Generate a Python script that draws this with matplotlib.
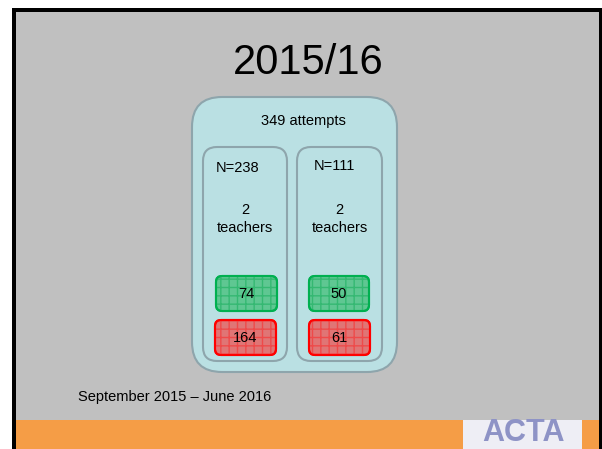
import matplotlib
matplotlib.use("Agg")
import matplotlib.pyplot as plt
from matplotlib.patches import FancyBboxPatch, Rectangle

plt.rcParams['font.family'] = ['Liberation Sans', 'DejaVu Sans']

# ---- data ----
title = "2015/16"
total_attempts = 349
group_n = [238, 111]
group_teachers = [2, 2]
passed = [74, 50]
failed = [164, 61]
period = "September 2015 \u2013 June 2016"
logo = "ACTA"

W, H = 602, 449
fig = plt.figure(figsize=(W / 100, H / 100), dpi=100)
fig.patch.set_facecolor('white')
ax = fig.add_axes([0, 0, 1, 1])
ax.set_xlim(0, W)
ax.set_ylim(H, 0)
ax.axis('off')

# slide background + frame
ax.add_patch(Rectangle((12, 8), 590, 441, facecolor='#C0C0C0', edgecolor='none', zorder=0))
ax.add_patch(Rectangle((12, 420), 590, 29, facecolor='#F59D46', edgecolor='none', zorder=1))
ax.add_patch(Rectangle((12, 8), 3.5, 441, facecolor='black', edgecolor='none', zorder=2))
ax.add_patch(Rectangle((12, 8), 590, 3.5, facecolor='black', edgecolor='none', zorder=2))
ax.add_patch(Rectangle((598.5, 8), 3.5, 441, facecolor='black', edgecolor='none', zorder=2))
# logo
ax.add_patch(Rectangle((463, 420), 119, 29, facecolor='#EEEEF5', edgecolor='none', zorder=2))
ax.text(523, 448, logo, fontsize=22, fontweight='bold', color='#8E93C6',
        ha='center', va='bottom', zorder=3)

# title
ax.text(308, 63, title, fontsize=30, ha='center', va='center', color='black', zorder=3)

def rbox(x0, y0, x1, y1, r, fc, ec, lw, z, hatch=None, hc=None):
    ax.add_patch(FancyBboxPatch((x0 + r, y0 + r), (x1 - x0) - 2 * r, (y1 - y0) - 2 * r,
                                boxstyle=f"round,pad={r}", facecolor=fc, edgecolor=ec,
                                linewidth=lw, zorder=z))
    if hatch:
        ax.add_patch(FancyBboxPatch((x0 + r, y0 + r), (x1 - x0) - 2 * r, (y1 - y0) - 2 * r,
                                    boxstyle=f"round,pad={r}", facecolor='none', edgecolor=hc,
                                    linewidth=0, hatch=hatch, zorder=z + 0.1))
        ax.add_patch(FancyBboxPatch((x0 + r, y0 + r), (x1 - x0) - 2 * r, (y1 - y0) - 2 * r,
                                    boxstyle=f"round,pad={r}", facecolor='none', edgecolor=ec,
                                    linewidth=lw, zorder=z + 0.2))

# outer box
rbox(192, 97, 397, 372, 30, '#BAE0E3', '#8EA5AC', 1.5, 5)
ax.text(303, 121, f"{total_attempts} attempts", fontsize=10.5, ha='center', va='center', zorder=8)

inner_x = [(203, 287), (297, 382)]
n_pos = [(238, 168), (334, 166)]
for i in range(2):
    x0, x1 = inner_x[i]
    rbox(x0, 147, x1, 361, 14, '#BAE0E3', '#8EA5AC', 1.5, 6)
    cx = (x0 + x1) / 2
    ax.text(n_pos[i][0], n_pos[i][1], f"N={group_n[i]}", fontsize=10.5, ha='center', va='center', zorder=8)
    ax.text(cx, 210, f"{group_teachers[i]}", fontsize=10.5, ha='center', va='center', zorder=8)
    ax.text(cx, 228, "teachers", fontsize=10.5, ha='center', va='center', zorder=8)

green_x = [(216, 277), (309, 369)]
red_x = [(215, 276), (309, 370)]
for i in range(2):
    gx0, gx1 = green_x[i]
    rbox(gx0, 276, gx1, 311, 6, '#5FC792', '#00B050', 1.5, 7, hatch='++', hc='#35B872')
    ax.text((gx0 + gx1) / 2, 294, f"{passed[i]}", fontsize=10.5, ha='center', va='center', zorder=9)
    rx0, rx1 = red_x[i]
    rbox(rx0, 320, rx1, 355, 6, '#E07575', '#FF0000', 1.5, 7, hatch='++', hc='#EE4A4A')
    ax.text((rx0 + rx1) / 2, 338, f"{failed[i]}", fontsize=10.5, ha='center', va='center', zorder=9)

ax.text(78, 397, period, fontsize=10.5, ha='left', va='center', zorder=3)

fig.savefig("out.png", dpi=100, facecolor='white')
